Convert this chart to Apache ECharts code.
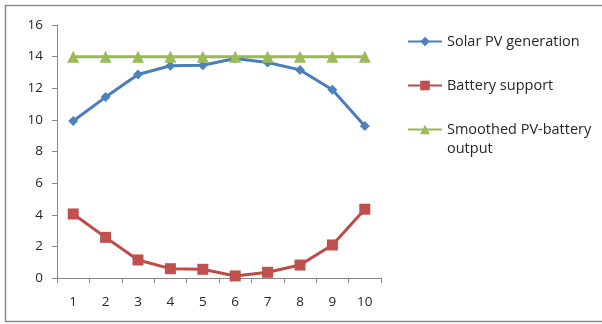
<!DOCTYPE html>
<html>
<head>
<meta charset="utf-8">
<script src="https://cdn.jsdelivr.net/npm/echarts@6/dist/echarts.min.js"></script>
<style>
  html, body { margin: 0; padding: 0; background: #fff; }
  #chart { width: 602px; height: 324px; }
</style>
</head>
<body>
<div id="chart"></div>
<script>
// Hours / time steps along the x axis
const categories = ['1', '2', '3', '4', '5', '6', '7', '8', '9', '10'];

// Series values
const solarPV = [9.93, 11.44, 12.87, 13.42, 13.46, 13.88, 13.63, 13.16, 11.9, 9.62];
const batterySupport = [4.05, 2.57, 1.14, 0.59, 0.55, 0.13, 0.36, 0.82, 2.09, 4.35];
const smoothedOutput = [14, 14, 14, 14, 14, 14, 14, 14, 14, 14];

const seriesNames = ['Solar PV generation', 'Battery support', 'Smoothed PV-battery output'];

const FONT = 'Open Sans';
const axisGray = '#868686';
const textColor = '#262626';

const legendText = { fontFamily: FONT, fontSize: 14.5, color: textColor, lineHeight: 19 };

const chart = echarts.init(document.getElementById('chart'), null, { renderer: 'canvas' });

chart.setOption({
  animation: false,
  backgroundColor: '#ffffff',
  textStyle: { fontFamily: FONT },
  graphic: [{
    type: 'rect',
    shape: { x: 5.5, y: 5.5, width: 600, height: 316 },
    style: { fill: 'none', stroke: '#8c8c8c', lineWidth: 1.5 },
    silent: true,
    z: -1
  }],
  grid: { left: 57, top: 25, right: 221, bottom: 46 },
  legend: [
    {
      orient: 'vertical',
      left: 402,
      top: 27,
      itemWidth: 34,
      itemHeight: 12,
      itemGap: 25,
      textStyle: legendText,
      data: [seriesNames[0], seriesNames[1]]
    },
    {
      // two-line label; a leading blank line keeps the icon beside the first line
      orient: 'vertical',
      left: 402,
      top: 96,
      itemWidth: 34,
      itemHeight: 12,
      textStyle: legendText,
      data: [seriesNames[2]],
      formatter: function () {
        return '\nSmoothed PV-battery\noutput';
      }
    }
  ],
  xAxis: {
    type: 'category',
    data: categories,
    boundaryGap: true,
    axisLine: { lineStyle: { color: axisGray, width: 1 } },
    axisTick: { show: true, alignWithLabel: false, length: 5, lineStyle: { color: axisGray } },
    axisLabel: { fontFamily: FONT, fontSize: 13.5, color: textColor, margin: 17 },
    splitLine: { show: false }
  },
  yAxis: {
    type: 'value',
    min: 0,
    max: 16,
    interval: 2,
    axisLine: { show: true, lineStyle: { color: axisGray, width: 1 } },
    axisTick: { show: true, length: 5, lineStyle: { color: axisGray } },
    axisLabel: { fontFamily: FONT, fontSize: 13.5, color: textColor, margin: 14 },
    splitLine: { show: false }
  },
  series: [
    {
      name: seriesNames[0],
      type: 'line',
      data: solarPV,
      symbol: 'diamond',
      symbolSize: 10,
      lineStyle: { color: '#4a7ebb', width: 3 },
      itemStyle: { color: '#4f81bd' },
      z: 3
    },
    {
      name: seriesNames[1],
      type: 'line',
      data: batterySupport,
      symbol: 'rect',
      symbolSize: 11,
      lineStyle: { color: '#be4b48', width: 3 },
      itemStyle: { color: '#c0504d' },
      z: 2
    },
    {
      name: seriesNames[2],
      type: 'line',
      data: smoothedOutput,
      symbol: 'triangle',
      symbolSize: 12,
      lineStyle: { color: '#98b954', width: 3 },
      itemStyle: { color: '#9bbb59' },
      z: 4
    }
  ]
});
</script>
</body>
</html>
